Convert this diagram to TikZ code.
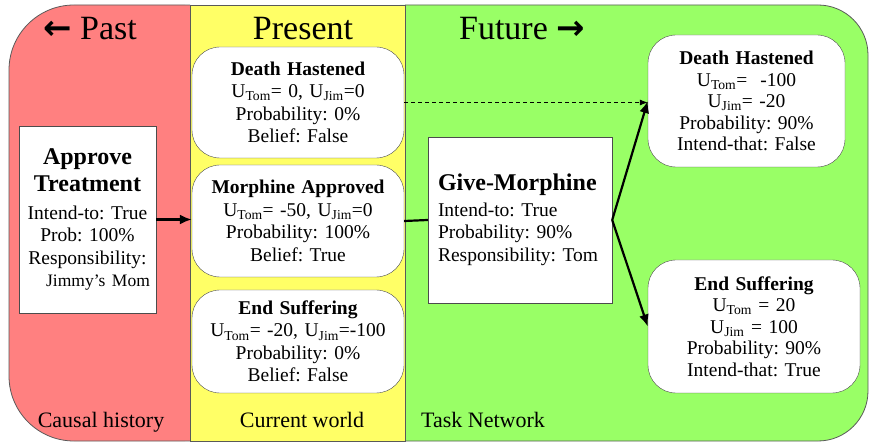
\documentclass[tikz,border=0pt]{standalone}
\usepackage{fontspec}
\setmainfont{Liberation Serif}
\newfontfamily\arrowfont{DejaVu Sans}
\usetikzlibrary{arrows.meta}
\definecolor{pastred}{RGB}{255,128,128}
\definecolor{presentyellow}{RGB}{255,255,102}
\definecolor{futuregreen}{RGB}{153,255,102}
\newcommand\util[1]{U\textsubscript{#1}}
\frenchspacing
\tikzset{
	panel/.style={draw=black!65, line width=0.8pt},
	title/.style={anchor=base, font=\fontsize{34}{40}\selectfont},
	era/.style={anchor=base, font=\fontsize{22}{26}\selectfont},
	world/.style={draw=black!70, fill=white, rounded corners=28pt, inner xsep=0pt, inner ysep=0pt, align=center, font=\fontsize{19.5}{22.5}\selectfont},
	task/.style={draw=black!70, fill=white, inner ysep=0pt, font=\fontsize{19.5}{22.5}\selectfont},
	flow/.style={-{Latex[length=12pt,width=10pt]}, line width=2.2pt},
	maybe/.style={-{Latex[length=8pt,width=6pt]}, line width=0.8pt, dash pattern=on 4pt off 3pt}
}

\begin{document}
\begin{tikzpicture}[x=1pt, y=-1pt]
			%%%%% START %%%%%
			\useasboundingbox (0,0) rectangle (870,443);
			
			% the three panels
			\fill[futuregreen, rounded corners=50pt] (350,5) -- (868,5) -- (868,441) -- (350,441) -- cycle;
			\fill[pastred, rounded corners=65pt] (250,5) -- (9,5) -- (9,441) -- (250,441) -- cycle;
			\draw[panel, fill=presentyellow] (190,5) rectangle (405,441);
			\draw[panel, rounded corners=65pt] (190,5) -- (9,5) -- (9,441) -- (190,441);
			\draw[panel, rounded corners=50pt] (405,5) -- (868,5) -- (868,441) -- (405,441);
			
			\node[title] (past) at (90,40) {{\arrowfont\bfseries ←} Past};
			\node[title] (present) at (303,40) {Present};
			\node[title] (future) at (522,40) {Future {\arrowfont\bfseries →}};
			
			\node[era] (history) at (101,427) {Causal history};
			\node[era] (current) at (302,427) {Current world};
			\node[era] (network) at (483,428) {Task Network};
			
			% past
			\node[task, inner xsep=0pt, text width=137pt, minimum height=187pt, align=center] (approve) at (87.5,219.5)
				{{\fontsize{24}{28}\selectfont\bfseries Approve}\\[5pt]
				{\fontsize{24}{28}\selectfont\bfseries Treatment}\\[5pt]
				Intend-to: True\\ Prob: 100\%\\ Responsibility:\\
				{\fontsize{17.5}{21}\selectfont\hspace*{21pt}Jimmy's Mom}};
			
			% present
			\node[world, text width=212pt, minimum height=111pt] (deathnow) at (298,102.5)
				{{\bfseries Death Hastened}\\ \util{Tom}= 0, \util{Jim}=0\\ Probability: 0\%\\ Belief: False};
			\node[world, text width=212pt, minimum height=112pt] (approved) at (298,221)
				{{\bfseries Morphine Approved}\\ \util{Tom}= -50, \util{Jim}=0\\ Probability: 100\%\\ Belief: True};
			\node[world, text width=212pt, minimum height=103pt] (reliefnow) at (298,341.5)
				{{\bfseries End Suffering}\\ \util{Tom}= -20, \util{Jim}=-100\\ Probability: 0\%\\ Belief: False};
			
			% future
			\node[task, inner xsep=10pt, text width=164pt, minimum height=166pt, align=left] (give) at (520,220)
				{{\fontsize{24}{28}\selectfont\bfseries Give-Morphine}\\[3pt]
				Intend-to: True\\ Probability: 90\%\\ Responsibility: Tom};
			\node[world, text width=197pt, minimum height=132pt, font=\fontsize{19.5}{21.5}\selectfont] (deathlater) at (746.5,101)
				{{\bfseries Death Hastened}\\ \util{Tom}=~~-100\\ \util{Jim}= -20\\ Probability: 90\%\\ Intend-that: False};
			\node[world, text width=212pt, minimum height=133pt, font=\fontsize{19.5}{21.5}\selectfont] (reliefater) at (754,326.5)
				{{\bfseries End Suffering}\\ \util{Tom} = 20\\ \util{Jim} = 100\\ Probability: 90\%\\ Intend-that: True};
			
			% connectors
			\draw[flow] (approve.east) -- (approve.east -| approved.west);
			\draw[line width=2.2pt] (approved.east) -- (give.west);
			\draw[flow] (give.east) -- (deathlater.west);
			\draw[flow] (give.east) -- (reliefater.west);
			\draw[maybe] (deathnow.east) -- (deathnow.east -| deathlater.west);
			
			%%%%% END %%%%%
		\end{tikzpicture}
\end{document}
